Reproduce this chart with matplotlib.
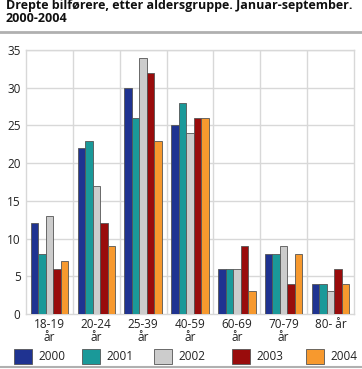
import matplotlib
matplotlib.use("Agg")
import matplotlib.pyplot as plt
import numpy as np
from matplotlib.patches import Rectangle
from matplotlib.lines import Line2D

categories = ["18-19\når", "20-24\når", "25-39\når", "40-59\når", "60-69\når", "70-79\når", "80- år"]
years = ["2000", "2001", "2002", "2003", "2004"]
v2000 = [12, 22, 30, 25, 6, 8, 4]
v2001 = [8, 23, 26, 28, 6, 8, 4]
v2002 = [13, 17, 34, 24, 6, 9, 3]
v2003 = [6, 12, 32, 26, 9, 4, 6]
v2004 = [7, 9, 23, 26, 3, 8, 4]
series = [v2000, v2001, v2002, v2003, v2004]
colors = ["#1f3391", "#1a9999", "#cccccc", "#990c0c", "#f7992e"]
yticks = [0, 5, 10, 15, 20, 25, 30, 35]

plt.rcParams['font.family'] = ['Open Sans', 'DejaVu Sans']
fig = plt.figure(figsize=(3.62, 3.69), dpi=100)
W, H = 362, 369
ax = fig.add_axes([26 / W, 1 - 314 / H, 328 / W, 264 / H])

n = len(categories)
x = np.arange(n)
bw = 0.16
for i, (vals, c) in enumerate(zip(series, colors)):
    ax.bar(x + (i - 2) * bw, vals, width=bw, color=c, edgecolor="#555555", linewidth=0.6, zorder=3)

ax.set_xlim(-0.5, n - 0.5)
ax.set_ylim(0, 35)
ax.set_yticks(yticks)
ax.set_yticklabels([str(t) for t in yticks], fontsize=8.5, color="#222222")
ax.set_xticks(x)
ax.set_xticklabels(categories, fontsize=8.5, color="#222222", linespacing=1.0)
ax.tick_params(length=0, pad=3)
ax.tick_params(axis='y', pad=4)
for k in range(1, n):
    ax.axvline(k - 0.5, color="#d8d8d8", linewidth=1, zorder=1)
for t in yticks[1:]:
    ax.axhline(t, color="#d8d8d8", linewidth=1, zorder=1)
for s in ax.spines.values():
    s.set_color("#d8d8d8")
    s.set_linewidth(1)

fig.text(6 / W, 1 - 12 / H, "Drepte bilførere, etter aldersgruppe. Januar-september.\n2000-2004",
         fontsize=9, fontweight="bold", va="center", ha="left", linespacing=1.05, color="#111111")
fig.add_artist(Line2D([0, 1], [1 - 32 / H, 1 - 32 / H], color="#b0b0b0", linewidth=2, transform=fig.transFigure))
fig.add_artist(Line2D([0, 1], [1 - 367 / H, 1 - 367 / H], color="#b0b0b0", linewidth=1.5, transform=fig.transFigure))

# legend, drawn manually in pixel positions
leg_x = [14, 82, 154, 232, 306]
for lx, c, yr in zip(leg_x, colors, years):
    fig.add_artist(Rectangle((lx / W, 1 - 364 / H), 18 / W, 15 / H, facecolor=c, edgecolor="#555555",
                             linewidth=0.6, transform=fig.transFigure))
    fig.text((lx + 24) / W, 1 - 356.5 / H, yr, fontsize=8.5, va="center", ha="left", color="#222222")

fig.savefig("out.png", dpi=100)
